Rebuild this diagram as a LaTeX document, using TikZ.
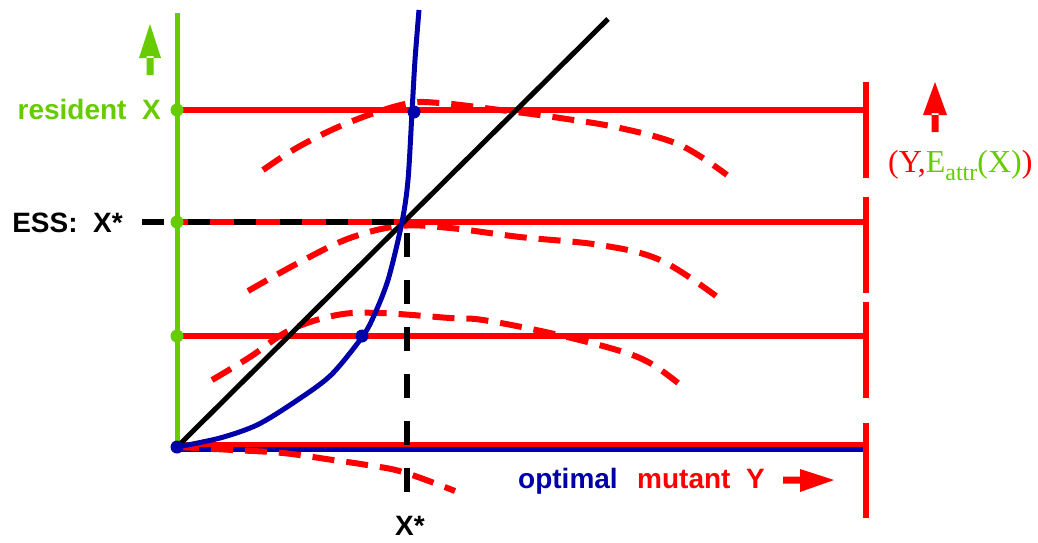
\documentclass[tikz,border=0pt]{standalone}
\usepackage{fontspec}
\setmainfont{Liberation Serif}
\setsansfont{Liberation Sans}
\definecolor{cgreen}{RGB}{102,204,0}
\definecolor{cblue}{RGB}{0,0,170}
\definecolor{cred}{RGB}{255,0,0}
\tikzset{
  axisline/.style={cgreen,line width=5pt},
  redline/.style={cred,line width=5.5pt},
  fitcurve/.style={cred,line width=6pt,dash pattern=on 22pt off 12pt},
  esscurve/.style={black,line width=5.5pt,dash pattern=on 22pt off 24pt},
  bluecurve/.style={cblue,line width=5pt},
  dot/.style={circle,fill=#1,inner sep=0pt,minimum size=13pt},
  lab/.style={font=\sffamily\bfseries\fontsize{28}{32}\selectfont,inner sep=0pt},
}
\begin{document}
\begin{tikzpicture}[x=1pt,y=-1pt]
\useasboundingbox (0,0) rectangle (1038,542);
% coordinates
\coordinate (O) at (177,447);
\coordinate (Atop) at (177,13);
\coordinate (L1a) at (177,110); \coordinate (L1b) at (866,110);
\coordinate (L2a) at (177,222); \coordinate (L2b) at (866,222);
\coordinate (L3a) at (177,336); \coordinate (L3b) at (866,336);
\coordinate (L4a) at (177,444.5); \coordinate (L4b) at (866,444.5);
\coordinate (B4a) at (177,449); \coordinate (B4b) at (866,449);
\coordinate (Dend) at (608,19);
\coordinate (ESSa) at (142,222); \coordinate (ESSb) at (404,222);
\coordinate (Va) at (407,233); \coordinate (Vb) at (407,500);
% red horizontal lines
\draw[redline] (L1a) -- (L1b);
\draw[redline] (L2a) -- (L2b);
\draw[redline] (L3a) -- (L3b);
\draw[redline,line width=4.5pt] (L4a) -- (L4b);
\draw[bluecurve] (B4a) -- (B4b);
% vertical red bars
\draw[redline] (866,82) -- (866,178);
\draw[redline] (866,197) -- (866,293);
\draw[redline] (866,302) -- (866,398);
\draw[redline] (866,423) -- (866,518);
% dashed red fitness curves
\draw[fitcurve] plot[smooth,tension=0.6] coordinates {(263,170) (300,146) (350,122) (405,104) (440,103) (500,110) (560,118) (620,128) (680,145) (727,175)};
\draw[fitcurve] plot[smooth,tension=0.6] coordinates {(248,291) (300,262) (350,238) (400,226) (450,228) (520,237) (600,245) (660,260) (716,296)};
\draw[fitcurve] plot[smooth,tension=0.6] coordinates {(212,380) (250,357) (290,330) (337,315) (380,313) (450,318) (483,320) (550,333) (617,350) (650,363) (678,383)};
\draw[fitcurve] plot[smooth,tension=0.6] coordinates {(177,447) (233,450) (283,453) (333,460) (367,465) (403,472) (455,491)};
% green axis
\draw[axisline] (O) -- (Atop);
% diagonal
\draw[black,line width=5pt] (O) -- (Dend);
% ESS dashed lines
\draw[esscurve] (ESSa) -- (ESSb);
\draw[esscurve,dash pattern=on 24pt off 23pt] (Va) -- (Vb);
% blue optimal curve
\draw[bluecurve] plot[smooth,tension=0.5] coordinates {(177,447) (220,438) (257,425) (293,403) (330,376) (360,340) (372,320) (388,280) (402,222) (408,180) (412,112) (415,60) (419,10)};
% dots
\node[dot=cgreen] (g1) at (L1a) {};
\node[dot=cgreen] (g2) at (L2a) {};
\node[dot=cgreen] (g3) at (L3a) {};
\node[dot=cblue] (b0) at (O) {};
\node[dot=cblue] (b1) at (362,336) {};
\node[dot=cblue] (b2) at (414,112) {};
% arrows
\fill[cgreen] (146.5,75) rectangle (153.5,56) (139,58) -- (161,58) -- (150,24) -- cycle;
\fill[cred] (931.5,132) rectangle (938.5,113) (923,115) -- (947,115) -- (935,82) -- cycle;
\fill[cred] (783,476.5) rectangle (802,483.5) (800,469) -- (800,492) -- (834,480) -- cycle;
% labels
\node[lab,cgreen,anchor=base east] (tres) at (161,119) {resident\ \ X};
\node[lab,black,anchor=base east] (tess) at (123,232) {ESS:\ \ X*};
\node[lab,black,anchor=base] (txs) at (410,535) {X*};
\node[lab,cblue,anchor=base west] (topt) at (518,488) {optimal};
\node[lab,cred,anchor=base west] (tmut) at (637,488) {mutant\ \ Y};
\node[font=\fontsize{32}{36}\selectfont,inner sep=0pt,anchor=base west] (tE) at (888,172) {\textcolor{cred}{(Y,}\textcolor{cgreen}{E\raisebox{-8pt}{\fontsize{24}{26}\selectfont attr}(X)}\textcolor{cred}{)}};
\end{tikzpicture}
\end{document}
